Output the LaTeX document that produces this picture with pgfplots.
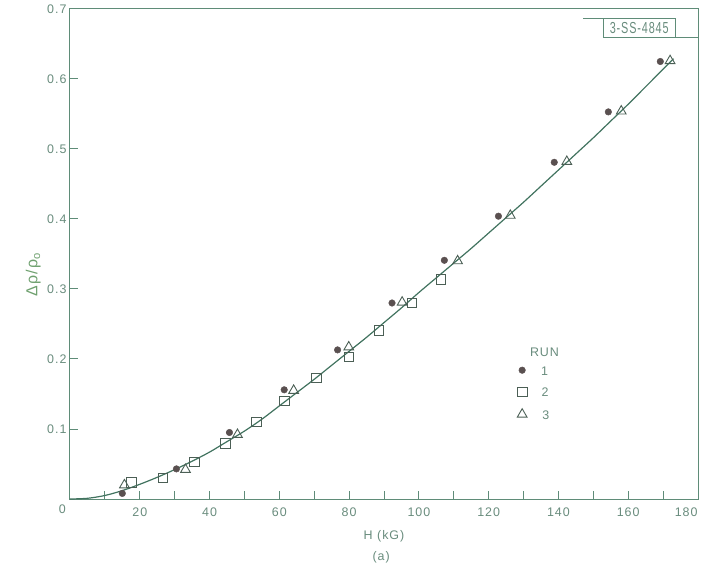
\documentclass[border=0pt]{standalone}
\usepackage{pgfplots}
\pgfplotsset{compat=1.18}
\usepackage{fontspec}
\setmainfont{Liberation Sans}[LetterSpace=8]
\definecolor{axcol}{RGB}{95,140,120}
\definecolor{txtcol}{RGB}{105,140,125}
\definecolor{ylabcol}{RGB}{110,160,110}
\definecolor{curvecol}{RGB}{65,115,95}
\definecolor{dotcol}{RGB}{90,80,80}
\definecolor{mkcol}{RGB}{75,95,85}
\newcommand{\tfont}{\fontsize{12.5}{15}\selectfont}
\begin{document}
\begin{tikzpicture}
\begin{axis}[
  at={(0,0)}, anchor=south west,
  scale only axis, width=628bp, height=490bp,
  xmin=0, xmax=180, ymin=0, ymax=0.7,
  axis line style={axcol, line width=1bp},
  tick style={axcol, line width=1bp},
  xtick={20,40,...,160},
  minor xtick={10,30,...,170},
  ytick={0.1,0.2,...,0.7},
  xtick pos=bottom, ytick pos=left,
  tick align=inside,
  major tick length=8bp, minor tick length=8bp,
  /pgf/number format/assume math mode=true,
  yticklabel style={/pgf/number format/.cd, fixed, fixed zerofill, precision=1},
  ticklabel style={font=\tfont, text=txtcol},
  xticklabel style={yshift=-5bp},
  xlabel={H (kG)},
  xlabel style={font=\tfont, text=txtcol, yshift=-7bp},
  clip=false,
]
\addplot[curvecol, line width=1.2bp, smooth] coordinates {
(0,0) (5,0.001) (10,0.005) (15,0.012) (20,0.021) (25,0.031) (30,0.042)
(35,0.054) (40,0.067) (45,0.082) (50,0.097) (55,0.114) (60,0.133)
(65,0.152) (70,0.171) (75,0.191) (80,0.211) (85,0.231) (90,0.252)
(95,0.273) (100,0.295) (105,0.316) (110,0.337) (115,0.358) (120,0.380)
(125,0.402) (130,0.424) (135,0.447) (140,0.470) (145,0.493) (150,0.516)
(155,0.540) (160,0.564) (165,0.589) (170,0.614) (173,0.629)
};
\addplot[only marks, mark=*, mark size=3.3bp, mark options={fill=dotcol, draw=dotcol}] coordinates {
(15.0,0.008) (30.5,0.043) (45.7,0.095) (61.4,0.156) (76.7,0.213) (92.3,0.280)
(107.3,0.341) (122.8,0.404) (138.8,0.481) (154.3,0.553) (169.2,0.625)
(129.6,0.184)
};
\addplot[only marks, mark=square, mark size=4.8bp, mark options={draw=mkcol, fill=white, line width=0.9bp}] coordinates {
(17.6,0.024) (26.6,0.030) (35.7,0.053) (44.5,0.079) (53.5,0.110) (61.5,0.140)
(70.6,0.173) (79.9,0.203) (88.5,0.241) (98.0,0.280) (106.3,0.314)
(129.6,0.153)
};
\addplot[only marks, mark=triangle, mark size=5.6bp, mark options={draw=mkcol, fill=white, line width=0.9bp}] coordinates {
(15.6,0.020) (33.1,0.042) (48.0,0.092) (64.1,0.155) (79.9,0.217) (95.2,0.281)
(111.1,0.340) (126.2,0.405) (142.4,0.482) (158.0,0.554) (172.0,0.626)
(129.6,0.121)
};
\node[font=\tfont, text=txtcol] at (axis cs:136.0,0.210) {RUN};
\node[font=\tfont, text=txtcol] at (axis cs:136.0,0.182) {1};
\node[font=\tfont, text=txtcol] at (axis cs:136.2,0.152) {2};
\node[font=\tfont, text=txtcol] at (axis cs:136.4,0.120) {3};
\node[font=\tfont, text=txtcol] at (axis cs:-2.2,-0.0145) {0};
\node[font=\tfont, text=txtcol] at (axis cs:176.6,-0.0185) {180};
\node[font=\tfont, text=txtcol] at (axis cs:89.2,-0.083) {(a)};
\node[font=\fontsize{16}{18}\selectfont, text=ylabcol, rotate=90] at (axis cs:-10.5,0.32) {Δρ/ρ\textsubscript{o}};
% stamp
\draw[axcol, line width=0.9bp] (axis cs:147.1,0.687) -- (axis cs:152.8,0.687);
\draw[axcol, line width=0.9bp] (axis cs:152.8,0.687) rectangle (axis cs:173.5,0.660);
\draw[axcol, line width=0.9bp] (axis cs:173.5,0.660) -- (axis cs:180,0.660);
\node[font=\fontsize{16}{18}\selectfont, text=txtcol, xscale=0.68] at (axis cs:163.15,0.6735) {3-SS-4845};
\end{axis}
\pgfresetboundingbox
\path[use as bounding box] (-70bp,-70bp) rectangle (632bp,499bp);
\end{tikzpicture}
\end{document}
